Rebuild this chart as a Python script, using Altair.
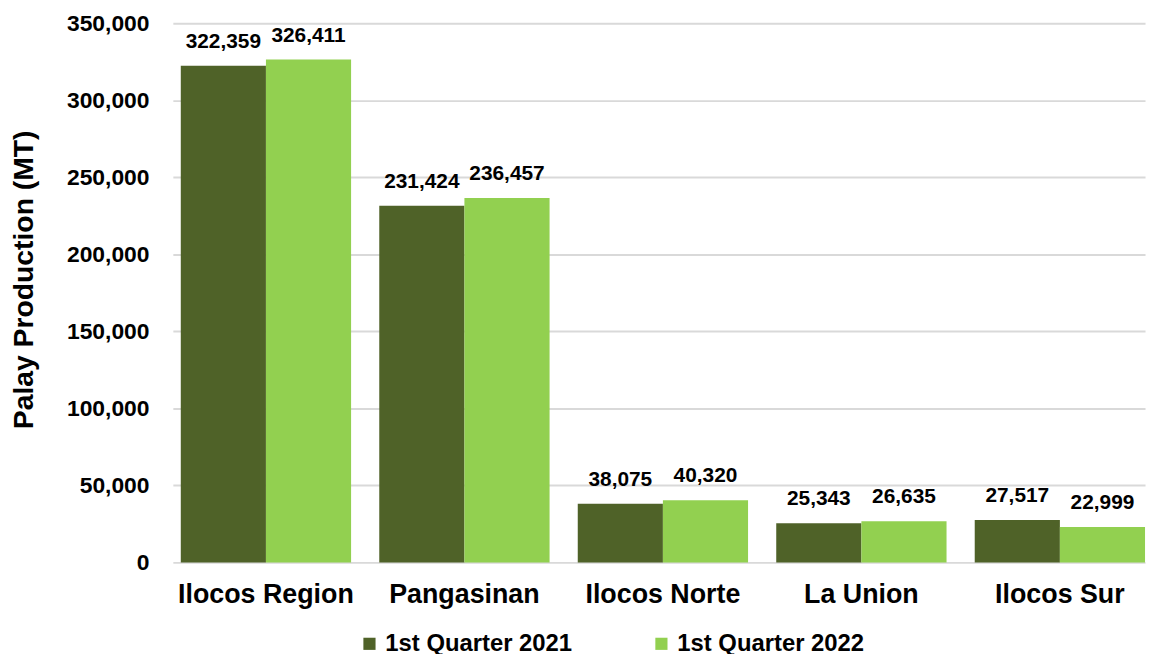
import altair as alt
import pandas as pd

regions = ["Ilocos Region", "Pangasinan", "Ilocos Norte", "La Union", "Ilocos Sur"]
q2021 = [322359, 231424, 38075, 25343, 27517]
q2022 = [326411, 236457, 40320, 26635, 22999]
series = ["1st Quarter 2021", "1st Quarter 2022"]
colors = ["#4F6228", "#92D050"]
y_ticks = [0, 50000, 100000, 150000, 200000, 250000, 300000, 350000]

rows = []
for r, a, b in zip(regions, q2021, q2022):
    rows.append({"Region": r, "Series": series[0], "Value": a})
    rows.append({"Region": r, "Series": series[1], "Value": b})
df = pd.DataFrame(rows)

x = alt.X("Region:N", sort=regions, title=None,
          scale=alt.Scale(paddingInner=0.142, paddingOuter=0.02, align=1),
          axis=alt.Axis(labelAngle=0, labelFontSize=27, labelFontWeight="bold",
                        labelColor="#000000", labelPadding=19, ticks=False,
                        domain=False, grid=False))
xo = alt.XOffset("Series:N", sort=series,
                 scale=alt.Scale(paddingInner=0, paddingOuter=0))
y = alt.Y("Value:Q", title="Palay Production (MT)",
          scale=alt.Scale(domain=[0, 350000], nice=False),
          axis=alt.Axis(values=y_ticks, format=",.0f", labelFontSize=23,
                        labelFontWeight="bold", labelColor="#000000",
                        labelPadding=24, ticks=False, domain=False,
                        grid=True, gridColor="#D9D9D9", gridWidth=2,
                        titleFontSize=28.5, titleFontWeight="bold",
                        titleColor="#000000", titlePadding=28, titleY=258))

bars = alt.Chart(df).mark_bar().encode(
    x=x, xOffset=xo, y=y,
    color=alt.Color("Series:N", sort=series,
                    scale=alt.Scale(domain=series, range=colors),
                    legend=alt.Legend(title=None, orient="none", direction="horizontal",
                                      legendX=186, legendY=613,
                                      symbolType="square", symbolSize=150,
                                      symbolStrokeWidth=0,
                                      labelFontSize=24, labelFontWeight="bold",
                                      labelColor="#000000", labelOffset=4,
                                      columnPadding=77, labelLimit=400)),
)

labels = alt.Chart(df).mark_text(baseline="bottom", dy=-14, fontSize=21,
                                 fontWeight="bold", color="#000000").encode(
    x=x, xOffset=xo, y=y, text=alt.Text("Value:Q", format=",.0f"),
)

chart = (bars + labels).properties(
    width=979, height=543,
    autosize=alt.AutoSizeParams(type="none"),
    padding={"left": 166, "top": 13, "right": 4, "bottom": 92},
).configure(font="Liberation Sans").configure_view(stroke=None)

chart.save("out.html", embed_options={"renderer": "svg", "actions": False})
